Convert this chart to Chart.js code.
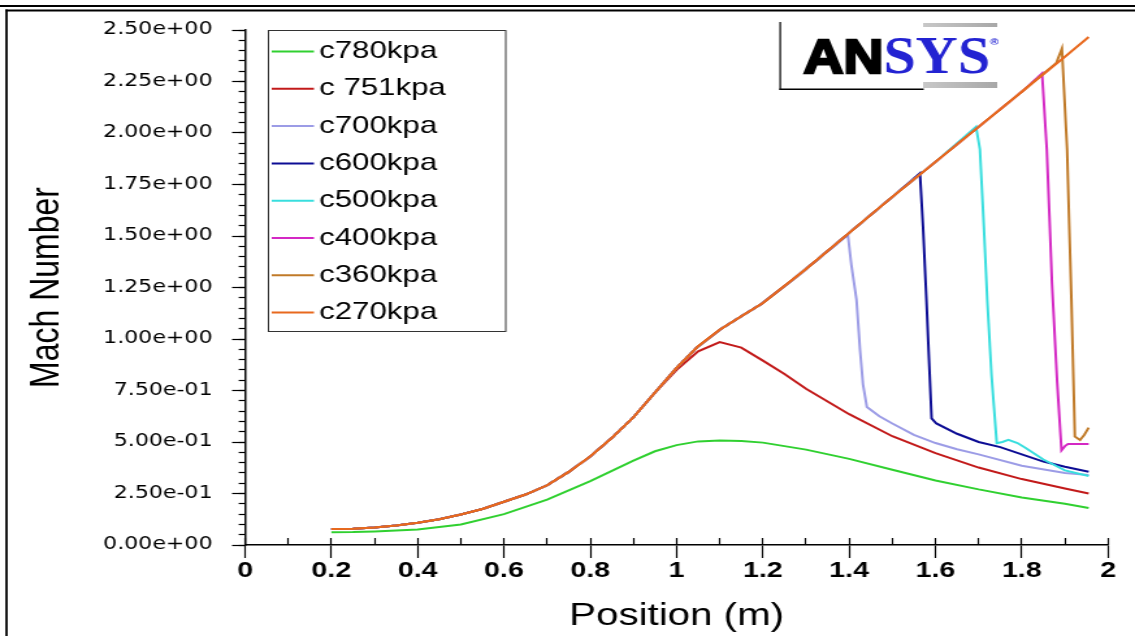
<!DOCTYPE html>
<html>
<head>
<meta charset="utf-8">
<script src="https://cdn.jsdelivr.net/npm/chart.js@4.4.1/dist/chart.umd.min.js"></script>
<style>
  html, body { margin: 0; background: #fff; overflow: hidden; }
  /* the plot is laid out on a narrower canvas and widened to the page */
  #wrap { width: 873px; height: 636px; transform: scaleX(1.3001); transform-origin: 0 0; }
  canvas { display: block; }
</style>
</head>
<body>
<div id="wrap"><canvas id="mach" width="873" height="636"></canvas></div>
<script>
// Mach number along the nozzle for different back pressures

const labels = ['c780kpa', 'c 751kpa', 'c700kpa', 'c600kpa', 'c500kpa', 'c400kpa', 'c360kpa', 'c270kpa'];
const colors = ['#30d030', '#c21a1a', '#9c9ce6', '#0c0c94', '#38dede', '#d428c4', '#c07a28', '#e8691e'];

// converging part, shared by every case except c780
const inletPos  = [0.2, 0.25, 0.3, 0.35, 0.4, 0.45, 0.5, 0.55, 0.6, 0.65, 0.7, 0.75, 0.8, 0.85, 0.9, 0.95, 1.0];
const inletMach = [0.078, 0.079, 0.085, 0.095, 0.108, 0.125, 0.148, 0.175, 0.21, 0.245, 0.29, 0.355, 0.43, 0.52, 0.62, 0.74, 0.86];

// supersonic branch after the throat (c270 follows it to the exit)
const nozzlePos  = [1.05, 1.1, 1.15, 1.2, 1.3, 1.4, 1.5, 1.6, 1.7, 1.8, 1.9, 1.955];
const nozzleMach = [0.965, 1.045, 1.11, 1.175, 1.34, 1.515, 1.69, 1.86, 2.03, 2.2, 2.37, 2.466];

// fully subsonic
const pos780  = [0.2, 0.25, 0.3, 0.4, 0.5, 0.6, 0.7, 0.75, 0.8, 0.85, 0.9, 0.95, 1.0, 1.05, 1.1, 1.15, 1.2, 1.3, 1.4, 1.5, 1.6, 1.7, 1.8, 1.9, 1.955];
const mach780 = [0.062, 0.063, 0.066, 0.075, 0.1, 0.15, 0.22, 0.265, 0.31, 0.36, 0.41, 0.455, 0.485, 0.503, 0.507, 0.505, 0.497, 0.463, 0.418, 0.365, 0.313, 0.27, 0.231, 0.2, 0.18];

// choked, subsonic after the throat
const pos751  = [1.0, 1.05, 1.1, 1.15, 1.2, 1.25, 1.3, 1.4, 1.5, 1.6, 1.7, 1.8, 1.9, 1.955];
const mach751 = [0.85, 0.94, 0.985, 0.958, 0.895, 0.83, 0.758, 0.635, 0.528, 0.446, 0.376, 0.32, 0.274, 0.25];

// normal shock and diffuser part for each case
const pos700  = [1.397, 1.405, 1.417, 1.425, 1.432, 1.441, 1.47, 1.5, 1.55, 1.6, 1.65, 1.7, 1.8, 1.9, 1.955];
const mach700 = [1.505, 1.36, 1.19, 0.95, 0.78, 0.67, 0.625, 0.59, 0.535, 0.495, 0.465, 0.44, 0.385, 0.35, 0.34];

const pos600  = [1.564, 1.571, 1.579, 1.585, 1.591, 1.602, 1.65, 1.7, 1.75, 1.8, 1.85, 1.9, 1.955];
const mach600 = [1.805, 1.55, 1.19, 0.9, 0.615, 0.59, 0.54, 0.5, 0.475, 0.44, 0.405, 0.38, 0.356];

const pos500  = [1.694, 1.703, 1.712, 1.72, 1.73, 1.742, 1.755, 1.769, 1.79, 1.81, 1.85, 1.9, 1.955];
const mach500 = [2.03, 1.92, 1.55, 1.19, 0.82, 0.494, 0.5, 0.51, 0.495, 0.47, 0.415, 0.362, 0.335];

const pos400  = [1.847, 1.858, 1.864, 1.87, 1.882, 1.892, 1.9, 1.907, 1.955];
const mach400 = [2.29, 1.92, 1.6, 1.27, 0.79, 0.46, 0.48, 0.49, 0.49];

const pos360  = [1.88, 1.893, 1.905, 1.91, 1.915, 1.923, 1.935, 1.945, 1.955];
const mach360 = [2.34, 2.41, 1.92, 1.55, 1.19, 0.526, 0.51, 0.535, 0.57];

const xTicks = { min: 0, max: 2, major: 0.2, minor: 0.1 };
const yTicks = { min: 0, max: 2.5, major: 0.25, minor: 0.05 };

function pts(pos, mach) {
  return pos.map((p, i) => ({ x: p, y: mach[i] }));
}

// inlet + supersonic branch up to where a case leaves it
function upstream(stop) {
  const a = pts(inletPos, inletMach).filter(p => p.x < stop);
  const b = pts(nozzlePos, nozzleMach).filter(p => p.x < stop);
  return a.concat(b);
}

const series = [
  pts(pos780, mach780),
  upstream(pos751[0]).concat(pts(pos751, mach751)),
  upstream(pos700[0]).concat(pts(pos700, mach700)),
  upstream(pos600[0]).concat(pts(pos600, mach600)),
  upstream(pos500[0]).concat(pts(pos500, mach500)),
  upstream(pos400[0]).concat(pts(pos400, mach400)),
  upstream(pos360[0]).concat(pts(pos360, mach360)),
  upstream(9)
];

function sci(v) {
  if (Math.abs(v) < 1e-9) return '0.00e+00';
  const e = Math.floor(Math.log10(Math.abs(v)) + 1e-9);
  const m = v / Math.pow(10, e);
  return m.toFixed(2) + 'e' + (e < 0 ? '-' : '+') + String(Math.abs(e)).padStart(2, '0');
}

// frame, legend box and logo
const decor = {
  id: 'decor',
  afterDraw(chart) {
    const ctx = chart.ctx;
    const W = chart.width, H = chart.height;
    ctx.save();

    // page frame
    ctx.fillStyle = '#000';
    ctx.fillRect(0, 5, W, 2);
    ctx.fillRect(4.1, 9.5, W, 2);
    ctx.fillRect(4.1, 9.5, 1.8, H);

    // legend
    ctx.strokeStyle = '#333';
    ctx.lineWidth = 1;
    ctx.strokeRect(206.5, 30.5, 182.5, 301);
    ctx.font = '24px "Liberation Sans", Arial, sans-serif';
    ctx.textBaseline = 'middle';
    chart.data.datasets.forEach((ds, i) => {
      const y = 51.5 + 37.3 * i;
      ctx.strokeStyle = ds.borderColor;
      ctx.lineWidth = 2;
      ctx.beginPath();
      ctx.moveTo(209, y);
      ctx.lineTo(241.5, y);
      ctx.stroke();
      ctx.fillStyle = '#000';
      ctx.fillText(ds.label, 245.5, y);
    });

    // ANSYS logo
    const grad = ctx.createLinearGradient(710, 0, 767, 0);
    grad.addColorStop(0, '#c8c8c8');
    grad.addColorStop(1, '#a8a8a8');
    ctx.fillStyle = grad;
    ctx.fillRect(710, 23, 57, 4);
    ctx.fillRect(710, 82, 57, 6);
    ctx.fillStyle = '#000';
    ctx.fillRect(599.5, 22, 1.2, 68);
    ctx.fillRect(599.5, 88.5, 111, 1.5);

    ctx.textBaseline = 'alphabetic';
    ctx.font = 'bold 49px "Liberation Sans", Arial, sans-serif';
    let w = ctx.measureText('AN').width;
    ctx.save();
    ctx.translate(618, 73.3);
    ctx.scale(61.5 / w, 1);
    ctx.fillStyle = '#000';
    ctx.strokeStyle = '#000';
    ctx.lineWidth = 2.5;
    ctx.fillText('AN', 0, 0);
    ctx.strokeText('AN', 0, 0);
    ctx.restore();

    ctx.font = 'bold 52px "Liberation Serif", "Times New Roman", serif';
    w = ctx.measureText('SYS').width;
    ctx.save();
    ctx.translate(679.5, 73.3);
    ctx.scale(82 / w, 1);
    ctx.fillStyle = '#2323d2';
    ctx.fillText('SYS', 0, 0);
    ctx.restore();

    ctx.font = 'bold 9px "Liberation Sans", Arial, sans-serif';
    ctx.fillStyle = '#2323d2';
    ctx.fillText('®', 761.5, 45);

    ctx.restore();
  }
};

Chart.defaults.font.family = '"Liberation Sans", Arial, sans-serif';
Chart.defaults.color = '#000';

const datasets = series.map((data, i) => ({
  label: labels[i],
  data: data,
  borderColor: colors[i],
  backgroundColor: colors[i],
  borderWidth: 2,
  pointRadius: 0,
  tension: 0,
  fill: false,
  order: labels.length - i
}));

new Chart(document.getElementById('mach'), {
  type: 'line',
  data: { datasets },
  plugins: [decor],
  options: {
    responsive: false,
    animation: false,
    devicePixelRatio: 1,
    layout: { padding: { top: 30, right: 20.7, left: 0, bottom: 0 } },
    plugins: { legend: { display: false }, tooltip: { enabled: false } },
    scales: {
      x: {
        type: 'linear',
        position: 'bottom',
        min: xTicks.min,
        max: xTicks.max,
        afterFit(scale) { scale.height = 91; },
        ticks: {
          stepSize: xTicks.major,
          autoSkip: false,
          maxRotation: 0,
          padding: 0,
          color: '#000',
          font: { family: '"Liberation Sans Narrow", "Arial Narrow", "Liberation Sans", sans-serif', size: 22, weight: 'bold' },
          callback: v => String(parseFloat(Number(v).toFixed(1)))
        },
        grid: { drawOnChartArea: false, tickLength: 13, tickWidth: 1.2, tickColor: '#000' },
        border: { color: '#000', width: 1.5 },
        title: {
          display: true,
          text: 'Position (m)',
          color: '#000',
          font: { size: 31 },
          padding: { top: 0, bottom: 0.5 }
        }
      },
      xMinor: {
        type: 'linear',
        axis: 'x',
        position: { y: 0 },
        min: xTicks.min,
        max: xTicks.max,
        ticks: { display: false, stepSize: xTicks.minor },
        grid: { drawOnChartArea: false, tickLength: -7, tickWidth: 1.2, tickColor: '#000' },
        border: { display: false }
      },
      y: {
        type: 'linear',
        position: 'left',
        min: yTicks.min,
        max: yTicks.max,
        afterFit(scale) { scale.width = 188.5; },
        ticks: {
          stepSize: yTicks.major,
          padding: 15,
          color: '#000',
          font: { family: '"DejaVu Sans", sans-serif', size: 17 },
          callback: v => sci(v)
        },
        grid: { drawOnChartArea: false, tickLength: 10, tickWidth: 1.2, tickColor: '#000' },
        border: { color: '#000', width: 1.5 },
        title: {
          display: true,
          text: 'Mach Number',
          color: '#000',
          font: { size: 32 },
          padding: { top: 17.3, bottom: 0 }
        }
      },
      yMinor: {
        type: 'linear',
        axis: 'y',
        position: { x: 0 },
        min: yTicks.min,
        max: yTicks.max,
        ticks: { display: false, stepSize: yTicks.minor },
        grid: { drawOnChartArea: false, tickLength: 5.4, tickWidth: 1.2, tickColor: '#000' },
        border: { display: false }
      }
    }
  }
});
</script>
</body>
</html>
